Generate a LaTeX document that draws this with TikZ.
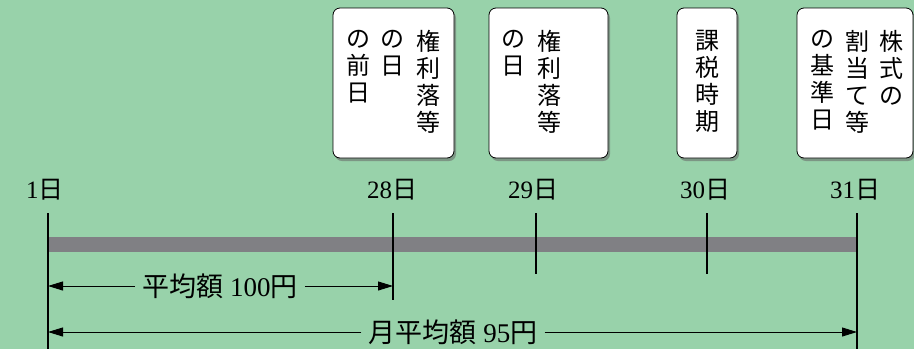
\documentclass[tikz,border=0pt]{standalone}
\usepackage{fontspec}
\setmainfont{Liberation Serif}
\newfontfamily\jp{Noto Sans CJK JP}
\usetikzlibrary{arrows.meta,shadows}

\definecolor{bggreen}{RGB}{152,210,170}
\definecolor{bargray}{RGB}{128,128,132}

\tikzset{
  card/.style={draw=black, line width=0.8pt, fill=white, rounded corners=7pt,
    drop shadow={shadow xshift=2pt, shadow yshift=-3pt, fill=black!60, opacity=0.55},
    inner sep=0pt},
  vtext/.style={anchor=north, inner sep=0pt, align=center,
    font=\jp\fontsize{24}{27}\selectfont},
  daylabel/.style={font=\fontsize{25}{28}\selectfont, inner sep=0pt},
  tick/.style={line width=1.2pt},
  span/.style={line width=1pt, -{Triangle[length=15pt,width=9pt]}},
  spanlabel/.style={font=\fontsize{27}{30}\selectfont, inner sep=7pt},
}

\begin{document}
\begin{tikzpicture}[x=1pt, y=-1pt]
    \fill[bggreen] (0,0) rectangle (914,349);
    \useasboundingbox (0,0) rectangle (914,349);

    \node[card, minimum width=121pt, minimum height=150pt] (card28) at (393.5,83) {};
    \node[card, minimum width=119pt, minimum height=150pt] (card29) at (548.5,83) {};
    \node[card, minimum width=60pt, minimum height=150pt] (card30) at (707,83) {};
    \node[card, minimum width=116pt, minimum height=150pt] (card31) at (855,83) {};

    \node[vtext] (col28a) at (428,30) {権\\利\\落\\等};
    \node[vtext] (col28b) at (392,30) {の\\日};
    \node[vtext] (col28c) at (358,30) {の\\前\\日};
    \node[vtext] (col29a) at (549,30) {権\\利\\落\\等};
    \node[vtext] (col29b) at (513,30) {の\\日};
    \node[vtext] (col30a) at (707,30) {課\\税\\時\\期};
    \node[vtext] (col31a) at (891,30) {株\\式\\の};
    \node[vtext] (col31b) at (857,30) {割\\当\\て\\等};
    \node[vtext] (col31c) at (822,30) {の\\基\\準\\日};

    \node[daylabel] (day1) at (45,190) {1{\jp 日}};
    \node[daylabel] (day28) at (392,190) {28{\jp 日}};
    \node[daylabel] (day29) at (533,190) {29{\jp 日}};
    \node[daylabel] (day30) at (705,190) {30{\jp 日}};
    \node[daylabel] (day31) at (855,190) {31{\jp 日}};

    \coordinate (barL) at (48,244.5);
    \coordinate (barR) at (857,244.5);
    \draw[bargray, line width=15pt] (barL) -- (barR);

    \coordinate (top1) at (48,213);
    \coordinate (top28) at (393,213);
    \coordinate (top29) at (536,213);
    \coordinate (top30) at (707,213);
    \coordinate (top31) at (857,213);
    \coordinate (bot1) at (48,349);
    \coordinate (bot28) at (393,300);
    \coordinate (bot29) at (536,274);
    \coordinate (bot30) at (707,274);
    \coordinate (bot31) at (857,349);
    \draw[tick] (top1) -- (bot1);
    \draw[tick] (top28) -- (bot28);
    \draw[tick] (top29) -- (bot29);
    \draw[tick] (top30) -- (bot30);
    \draw[tick] (top31) -- (bot31);

    \coordinate (avgL) at (48,286);
    \coordinate (avgR) at (393,286);
    \node[spanlabel] (avg28) at (220,286) {{\jp 平均額} 100{\jp 円}};
    \draw[span] (avg28) -- (avgL);
    \draw[span] (avg28) -- (avgR);

    \coordinate (monL) at (48,332);
    \coordinate (monR) at (857,332);
    \node[spanlabel] (avg31) at (453,332) {{\jp 月平均額} 95{\jp 円}};
    \draw[span] (avg31) -- (monL);
    \draw[span] (avg31) -- (monR);
  \end{tikzpicture}
\end{document}
